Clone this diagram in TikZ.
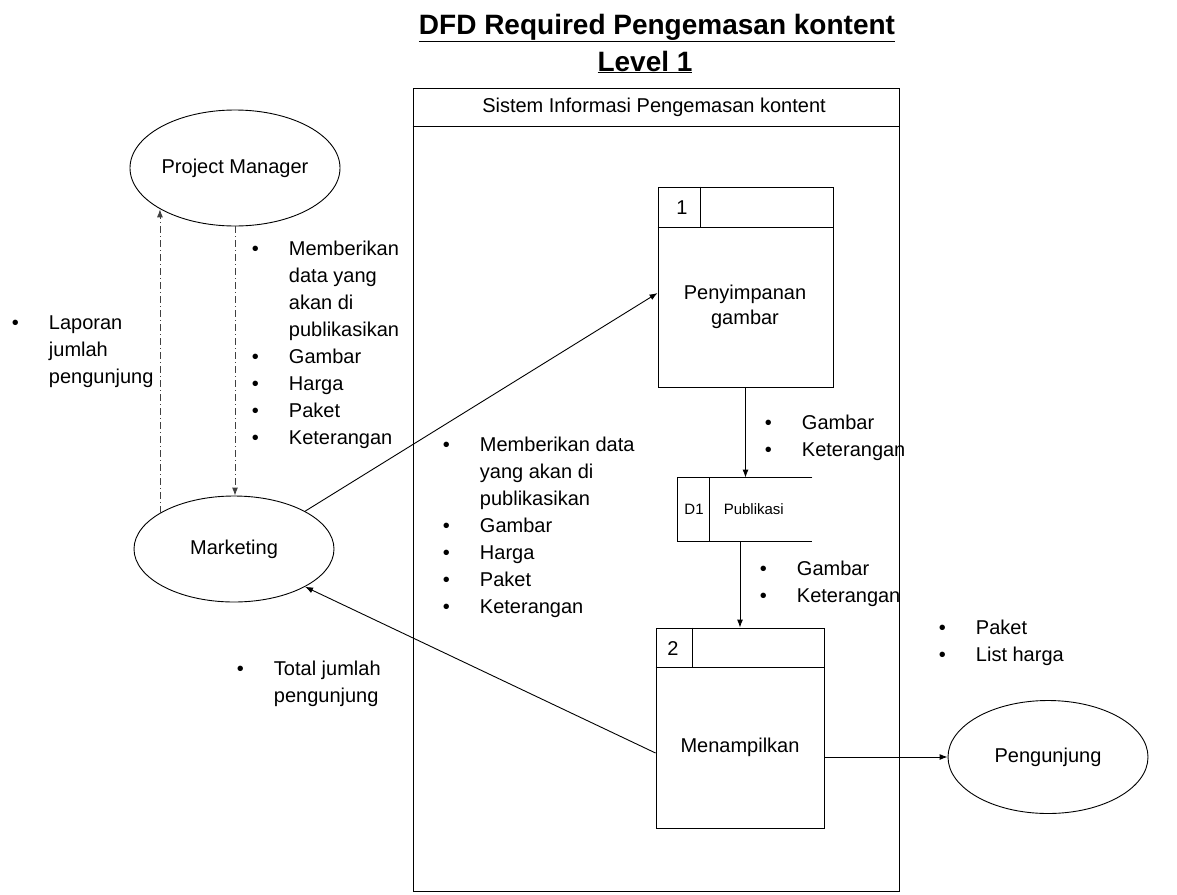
\documentclass[tikz,border=0pt]{standalone}
\usepackage{fontspec}
\setmainfont{Liberation Sans}
\usetikzlibrary{shapes.geometric,arrows.meta}

\tikzset{
  entitas/.style={draw,ellipse,inner sep=0pt},
  proses/.style={draw,rectangle,inner sep=0pt},
  butir/.style={inner sep=0pt,anchor=base west},
  panah/.style={-{Latex[length=8pt,width=6pt]}},
  putus/.style={black!75,dash pattern=on 7pt off 3pt on 1pt off 3pt}
}
\newcommand{\daftar}[1]{\begin{tabular}[t]{@{}l@{\hspace{30pt}}l@{}}#1\end{tabular}}

\begin{document}
\begin{tikzpicture}[x=1pt,y=-1pt,line width=0.9pt,font=\fontsize{20}{27}\selectfont]
	\useasboundingbox (0,0) rectangle (1177,894);

	%Judul
	\node[font=\bfseries\fontsize{28}{30}\selectfont] (judul) at (657,28) {\underline{DFD Required Pengemasan kontent}};
	\node[font=\bfseries\fontsize{28}{30}\selectfont] (level) at (645,62) {\underline{Level 1}};

	%Batas sistem
	\node[proses,minimum width=486,minimum height=803] (sis) at (656,489.5) {};
	\draw ([yshift=-39pt]sis.north west) -- ([yshift=-39pt]sis.north east);
	\node (sisnama) at (654,107) {Sistem Informasi Pengemasan kontent};

	%Entitas luar
	\node[entitas,minimum width=210,minimum height=116] (pm) at (235,168) {Project Manager};
	\node[entitas,minimum width=200,minimum height=106] (mkt) at (234,549) {Marketing};
	\node[entitas,minimum width=200,minimum height=113] (peng) at (1048,757) {Pengunjung};

	%Proses 1
	\node[proses,minimum width=175,minimum height=200] (p1) at (745.5,287) {};
	\draw ([yshift=-41pt]p1.north west) -- ([yshift=-41pt]p1.north east);
	\draw ([xshift=43pt]p1.north west) -- ([xshift=43pt,yshift=-41pt]p1.north west);
	\node (p1no) at (682,208) {1};
	\node[align=center,font=\fontsize{20}{25}\selectfont] (p1nama) at (745,307) {Penyimpanan\\gambar};

	%Proses 2
	\node[proses,minimum width=168,minimum height=200] (p2) at (740,728) {};
	\draw ([yshift=-40pt]p2.north west) -- ([yshift=-40pt]p2.north east);
	\draw ([xshift=37pt]p2.north west) -- ([xshift=37pt,yshift=-40pt]p2.north west);
	\node (p2no) at (673,649) {2};
	\node (p2nama) at (740,747) {Menampilkan};

	%Data store D1
	\node[inner sep=0pt,minimum width=134,minimum height=63] (d1) at (745,509.5) {};
	\draw (d1.north east) -- (d1.north west) -- (d1.south west) -- (d1.south east);
	\draw ([xshift=32pt]d1.north west) -- ([xshift=32pt]d1.south west);
	\node[font=\fontsize{15}{18}\selectfont] (d1no) at (694,509) {D1};
	\node[anchor=west,font=\fontsize{15}{18}\selectfont] (d1nama) at (720,509) {Publikasi};

	%Aliran data
	\draw[putus,panah] (pm.south) -- (pm.south |- mkt.north);
	\draw[putus,panah] (mkt.154) -- (mkt.154 |- pm.209);
	\draw[panah] (mkt.28) -- ([yshift=-6pt]p1.west);
	\draw[panah] (p1.south) -- (p1.south |- d1.north);
	\draw[panah] (d1.south -| p2.north) -- (p2.north);
	\draw[panah] ([yshift=-25pt]p2.west) -- (mkt.-28);
	\draw[panah] (p2.east |- peng.west) -- (peng.west);

	%Keterangan aliran
	\node[butir] (lapor) at (11.5,329) {\daftar{\textbullet & Laporan\\ & jumlah\\ & pengunjung}};
	\node[butir] (datapm) at (251.5,255) {\daftar{\textbullet & Memberikan\\ & data yang\\ & akan di\\ & publikasikan\\ \textbullet & Gambar\\ \textbullet & Harga\\ \textbullet & Paket\\ \textbullet & Keterangan}};
	\node[butir] (datamkt) at (442.5,451) {\daftar{\textbullet & Memberikan data\\ & yang akan di\\ & publikasikan\\ \textbullet & Gambar\\ \textbullet & Harga\\ \textbullet & Paket\\ \textbullet & Keterangan}};
	\node[butir] (datap1) at (764.5,429) {\daftar{\textbullet & Gambar\\ \textbullet & Keterangan}};
	\node[butir] (datad1) at (759.5,575) {\daftar{\textbullet & Gambar\\ \textbullet & Keterangan}};
	\node[butir] (total) at (236.5,675) {\daftar{\textbullet & Total jumlah\\ & pengunjung}};
	\node[butir] (datapeng) at (938.5,634) {\daftar{\textbullet & Paket\\ \textbullet & List harga}};

\end{tikzpicture}
\end{document}
